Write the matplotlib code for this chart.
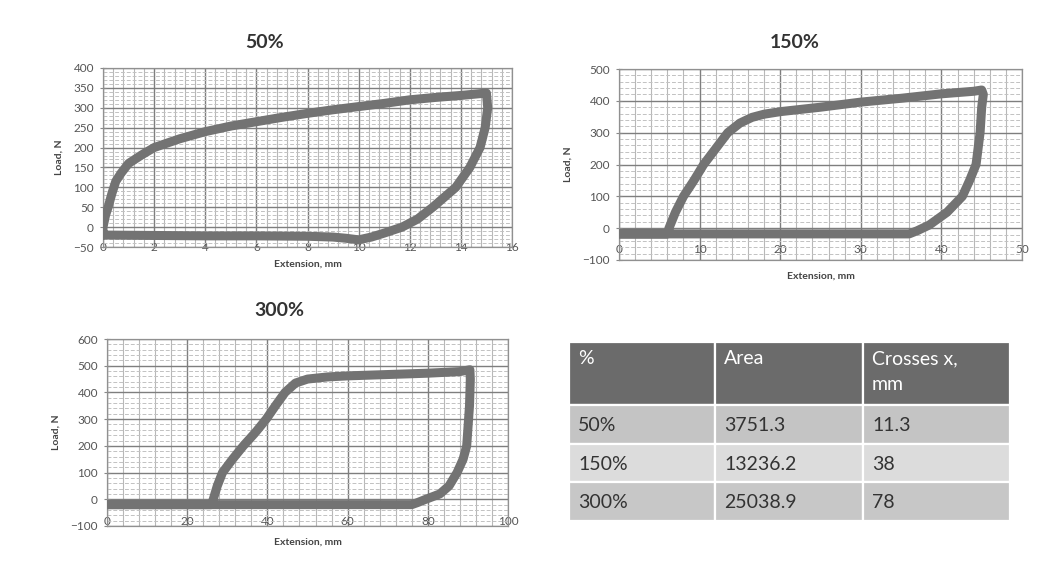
import matplotlib
matplotlib.use('Agg')
import matplotlib.pyplot as plt
from matplotlib.patches import Rectangle
from matplotlib.ticker import MultipleLocator

plt.rcParams['font.family'] = ['Lato', 'DejaVu Sans']

# hysteresis loops: load, then unload, back to the start
p50_x = [0, 0, 0.1, 0.2, 0.35, 0.5, 0.7, 1.0, 1.5, 2, 3, 4, 5, 6, 7, 8, 9, 10, 11, 12, 13, 14, 15,
         15.05, 14.95, 14.75, 14.35, 13.8, 12.9, 12.3, 11.7, 11.0, 10.5, 10.0, 9.5, 9, 8, 6, 4, 2, 0]
p50_y = [-20, 0, 30, 50, 85, 115, 135, 160, 181, 200, 222, 240, 254, 265, 276, 286, 295, 303, 311, 320, 326, 331, 337,
         300, 250, 200, 150, 100, 50, 20, 0, -15, -25, -32, -28, -25, -23, -22, -22, -21, -20]

p150_x = [0, 6, 6.2, 7, 8, 9.3, 10.5, 12, 13.5, 15, 16.5, 18, 20, 25, 30, 35, 40, 44, 45,
          45.2, 45, 44.8, 44.3, 43.5, 42.6, 40.7, 38.5, 37, 36, 30, 20, 10, 0]
p150_y = [-18, -18, 0, 50, 100, 150, 200, 250, 300, 330, 348, 358, 366, 380, 396, 408, 422, 430, 434,
          420, 380, 300, 200, 150, 100, 50, 10, -8, -18, -18, -18, -18, -18]

p300_x = [0, 26, 26.5, 27.5, 28.8, 31.3, 34, 37, 39.7, 42, 44.4, 47, 50, 55, 60, 70, 80, 88, 90.5,
          90.6, 90.4, 89.7, 88.8, 87.3, 85.3, 83, 79.5, 77.5, 76, 60, 40, 20, 0]
p300_y = [-20, -20, 0, 50, 100, 150, 200, 250, 300, 350, 400, 435, 450, 458, 462, 467, 472, 478, 485,
          450, 350, 200, 150, 100, 50, 20, 0, -12, -20, -20, -20, -20, -20]

# summary table
pct_col = ['50%', '150%', '300%']
area_col = ['3751.3', '13236.2', '25038.9']
cross_col = ['11.3', '38', '78']
header = ['%', 'Area', 'Crosses x,\nmm']

W, H = 1044, 585
fig = plt.figure(figsize=(W / 100, H / 100), dpi=100)
fig.patch.set_facecolor('white')


def px_axes(left, top, right, bottom):
    return fig.add_axes([left / W, 1 - bottom / H, (right - left) / W, (bottom - top) / H])


def loop_chart(ax, x, y, xlim, ylim, xmaj, xmin, ymaj, ymin, xpad):
    ax.plot(x, y, color='#737373', lw=6.5, solid_joinstyle='round', solid_capstyle='round', zorder=3)
    ax.set_xlim(*xlim)
    ax.set_ylim(*ylim)
    ax.xaxis.set_major_locator(MultipleLocator(xmaj))
    ax.xaxis.set_minor_locator(MultipleLocator(xmin))
    ax.yaxis.set_major_locator(MultipleLocator(ymaj))
    ax.yaxis.set_minor_locator(MultipleLocator(ymin))
    ax.grid(which='major', color='#7e7e7e', lw=1.0)
    ax.grid(which='minor', axis='x', color='#b8b8b8', lw=0.8)
    ax.grid(which='minor', axis='y', color='#c2c2c2', lw=0.7, ls=(0, (4, 2)))
    ax.set_axisbelow(True)
    for s in ax.spines.values():
        s.set_color('#909090')
        s.set_linewidth(0.9)
    ax.tick_params(axis='y', which='major', direction='inout', length=5, color='#888888',
                   labelsize=8.5, labelcolor='#555555', pad=4)
    ax.tick_params(axis='x', which='major', direction='in', length=0,
                   labelsize=8.5, labelcolor='#555555', pad=xpad)
    ax.tick_params(which='minor', length=0)
    ax.set_xlabel('Extension, mm', fontsize=7.5, fontweight='bold', color='#444444', labelpad=5)
    ax.set_ylabel('Load, N', fontsize=7.5, fontweight='bold', color='#444444', labelpad=7)


ax1 = px_axes(103, 68, 512, 247)
loop_chart(ax1, p50_x, p50_y, (0, 16), (-50, 400), 2, 0.4, 50, 10, -3.5)
ax2 = px_axes(619, 69, 1022, 260)
loop_chart(ax2, p150_x, p150_y, (0, 50), (-100, 500), 10, 2, 100, 20, -11.5)
ax3 = px_axes(107, 339, 508, 526)
loop_chart(ax3, p300_x, p300_y, (0, 100), (-100, 600), 20, 4, 100, 20, -7.5)

fig.text(265 / W, 1 - 42 / H, '50%', ha='center', va='center', fontsize=14, fontweight='bold', color='#333333')
fig.text(795 / W, 1 - 42 / H, '150%', ha='center', va='center', fontsize=14, fontweight='bold', color='#333333')
fig.text(279 / W, 1 - 311 / H, '300%', ha='center', va='center', fontsize=14, fontweight='bold', color='#333333')

# table drawn in pixel units
tax = px_axes(569, 342, 1010, 521)
col_edges = [0, 146, 294, 441]
row_edges = [0, 63, 102, 140, 179]
row_colors = ['#6b6b6b', '#c4c4c4', '#dcdcdc', '#c7c7c7']
tax.set_xlim(0, col_edges[-1])
tax.set_ylim(row_edges[-1], 0)
tax.axis('off')

rows = [header] + [list(r) for r in zip(pct_col, area_col, cross_col)]
for i, row in enumerate(rows):
    y0, y1 = row_edges[i], row_edges[i + 1]
    for j, val in enumerate(row):
        x0, x1 = col_edges[j], col_edges[j + 1]
        tax.add_patch(Rectangle((x0, y0), x1 - x0, y1 - y0, facecolor=row_colors[i],
                                edgecolor='white', lw=1.6))
        if i == 0:
            tax.text(x0 + 9, y0 + 8, val, ha='left', va='top', fontsize=14, color='white',
                     linespacing=1.65)
        else:
            tax.text(x0 + 9, (y0 + y1) / 2 + 1, val, ha='left', va='center', fontsize=14,
                     color='#333333')

fig.savefig('out.png', dpi=100)
